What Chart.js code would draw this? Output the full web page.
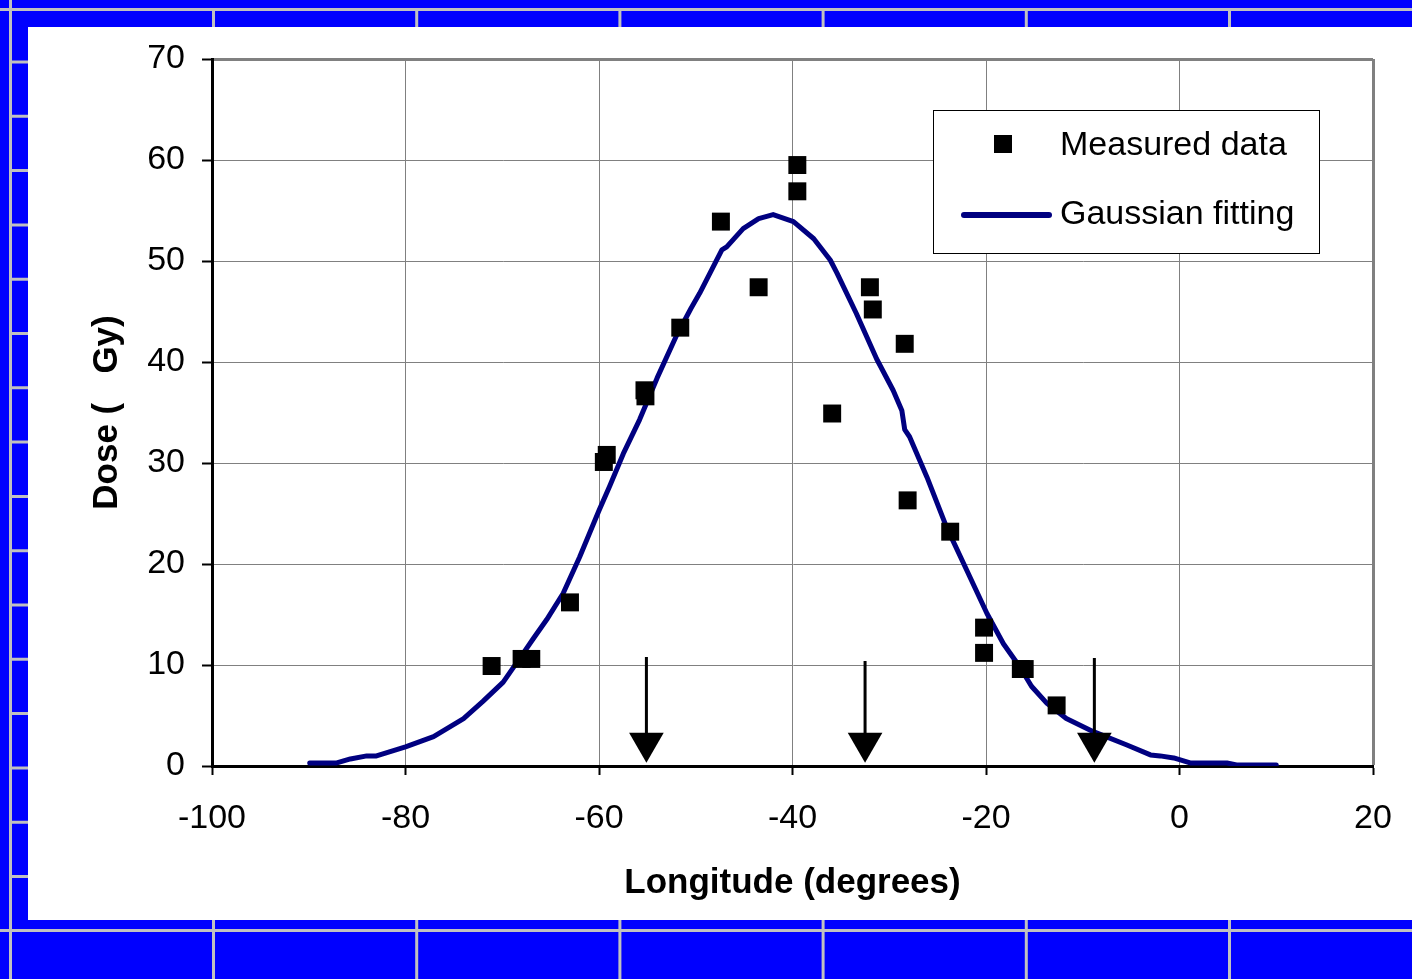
<!DOCTYPE html>
<html>
<head>
<meta charset="utf-8">
<title>Dose vs longitude</title>
<script src="https://cdn.jsdelivr.net/npm/chart.js@4.4.1/dist/chart.umd.min.js"></script>
<style>
    html, body { margin: 0; padding: 0; background: #0000ff; }
    #wrap { width: 1412px; height: 979px; }
</style>
</head>
<body>
<div id="wrap"><canvas id="myChartDose" width="1412" height="979"></canvas></div>
<script>
// measured data (longitude in degrees, dose)
var measuredX = [-71.1, -68.0, -67.0, -63.0, -59.5, -59.2, -55.3, -55.2, -51.6, -47.4, -43.5, -39.5,
                 -39.5, -35.9, -32.0, -31.7, -28.4, -28.1, -23.7, -20.2, -20.2, -16.4, -16.0, -12.7];
var measuredY = [9.9, 10.6, 10.6, 16.2, 30.1, 30.8, 37.2, 36.6, 43.4, 53.9, 47.4, 59.5,
                 56.9, 34.9, 47.4, 45.2, 41.8, 26.3, 23.2, 13.7, 11.2, 9.6, 9.6, 6.0];

// gaussian fitting line
var fitX = [-89.9, -87.1, -85.7, -84.0, -83.0, -80.0, -77.1, -74.0, -72.0, -69.9, -67.8, -66.8,
            -65.4, -63.7, -62.0, -60.0, -58.9, -57.5, -55.8, -54.0, -52.0, -50.5, -49.6, -47.3,
            -46.8, -45.1, -43.5, -42.0, -39.9, -37.8, -36.1, -35.4, -33.4, -31.3, -29.6, -28.7,
            -28.4, -27.9, -26.1, -24.1, -22.0, -19.9, -18.2, -16.5, -15.3, -13.7, -11.7, -8.9,
            -5.5, -3.0, -2.0, -0.6, 1.1, 4.9, 5.9, 10.0];
var fitY = [0.3, 0.3, 0.7, 1.0, 1.0, 1.9, 2.9, 4.7, 6.4, 8.3, 11.2, 12.6,
            14.5, 17.1, 20.7, 25.3, 27.7, 30.9, 34.3, 38.4, 42.6, 45.3, 46.8, 51.1,
            51.4, 53.2, 54.2, 54.6, 53.9, 52.2, 50.1, 48.8, 44.8, 40.3, 37.2, 35.2,
            33.3, 32.6, 28.6, 23.7, 19.4, 15.1, 12.1, 9.8, 7.9, 6.2, 4.7, 3.4,
            2.1, 1.1, 1.0, 0.8, 0.3, 0.3, 0.1, 0.1];

// arrows: longitude, top of shaft, centre of the arrow head
var arrowX = [-55.1, -32.5, -8.8];
var arrowTop = [10.8, 10.4, 10.7];
var arrowHead = [2.3, 2.3, 2.3];

// axes
var xMin = -100, xMax = 20, xStep = 20;
var yMin = 0, yMax = 70, yStep = 10;

var seriesNames = ['Measured data', 'Gaussian fitting'];

var fontName = "'Liberation Sans', Arial, sans-serif";

function toPoints(xs, ys) {
    var pts = [];
    for (var i = 0; i < xs.length; i++) {
        pts.push({ x: xs[i], y: ys[i] });
    }
    return pts;
}

// blue slide background with grey dividers and the white panel
var framePlugin = {
    id: 'frame',
    beforeDraw: function (chart) {
        var c = chart.ctx;
        var w = chart.width, h = chart.height;
        c.save();
        c.fillStyle = '#0000ff';
        c.fillRect(0, 0, w, h);
        c.strokeStyle = '#c0c0c0';
        c.lineWidth = 3;
        c.beginPath();
        c.moveTo(0, 9.5); c.lineTo(w, 9.5);
        c.moveTo(0, 930.5); c.lineTo(w, 930.5);
        c.moveTo(10.5, 0); c.lineTo(10.5, h);
        for (var x = 213.5; x < w; x += 203.2) {
            c.moveTo(x, 9.5); c.lineTo(x, 28);
            c.moveTo(x, 919); c.lineTo(x, h);
        }
        for (var y = 62; y < 930; y += 54.3) {
            c.moveTo(10.5, y); c.lineTo(28, y);
        }
        c.stroke();
        c.fillStyle = '#ffffff';
        c.fillRect(28, 27, w - 28, 920 - 27);
        c.restore();
    }
};

// boxed legend inside the plot
var legendPlugin = {
    id: 'boxLegend',
    afterDraw: function (chart) {
        var c = chart.ctx;
        c.save();
        c.fillStyle = '#ffffff';
        c.fillRect(933, 110, 386, 143);
        c.strokeStyle = '#000000';
        c.lineWidth = 1;
        c.strokeRect(933.5, 110.5, 386, 143);

        c.fillStyle = '#000000';
        c.fillRect(994, 135, 18, 18);

        c.strokeStyle = '#000080';
        c.lineWidth = 6;
        c.lineCap = 'round';
        c.beginPath();
        c.moveTo(964, 215);
        c.lineTo(1049, 215);
        c.stroke();

        c.fillStyle = '#000000';
        c.font = '34px ' + fontName;
        c.textBaseline = 'alphabetic';
        c.textAlign = 'left';
        c.fillText(seriesNames[0], 1060, 155);
        c.fillText(seriesNames[1], 1060, 224);
        c.restore();
    }
};

var datasets = [{
    label: seriesNames[0],
    data: toPoints(measuredX, measuredY),
    pointStyle: 'rect',
    pointRadius: 12.7,
    pointBorderWidth: 0,
    backgroundColor: '#000000',
    borderColor: '#000000',
    showLine: false
}];

for (var i = 0; i < arrowX.length; i++) {
    datasets.push({
        label: 'arrow' + (i + 1),
        data: [{ x: arrowX[i], y: arrowTop[i] }, { x: arrowX[i], y: arrowHead[i] }],
        showLine: true,
        borderColor: '#000000',
        borderWidth: 3,
        pointStyle: 'triangle',
        rotation: 180,
        pointRadius: [0, 20],
        pointBorderWidth: 0,
        backgroundColor: '#000000'
    });
}

datasets.push({
    label: seriesNames[1],
    data: toPoints(fitX, fitY),
    showLine: true,
    borderColor: '#000080',
    borderWidth: 5,
    borderJoinStyle: 'round',
    borderCapStyle: 'round',
    pointRadius: 0,
    tension: 0
});

var edgeGrid = function (ctx, edgeValue) {
    return ctx.tick && ctx.tick.value === edgeValue;
};

const ctx = document.getElementById('myChartDose');
const myChart = new Chart(ctx, {
    type: 'scatter',
    data: { datasets: datasets },
    plugins: [framePlugin, legendPlugin],
    options: {
        responsive: false,
        animation: false,
        devicePixelRatio: 1,
        events: [],
        layout: { padding: { left: 0, top: 59, right: 39, bottom: 0 } },
        plugins: {
            legend: { display: false },
            tooltip: { enabled: false }
        },
        scales: {
            x: {
                type: 'linear',
                min: xMin,
                max: xMax,
                afterFit: function (scale) {
                    scale.height = 213;
                    scale.paddingLeft = 0;
                    scale.paddingRight = 0;
                },
                ticks: {
                    stepSize: xStep,
                    color: '#000000',
                    padding: 23,
                    maxRotation: 0,
                    font: { family: fontName, size: 34 }
                },
                grid: {
                    color: '#808080',
                    lineWidth: function (c) { return edgeGrid(c, xMax) ? 3 : 1; },
                    tickColor: '#000000',
                    tickWidth: 2,
                    tickLength: 9
                },
                border: { color: '#000000', width: 3 },
                title: {
                    display: true,
                    text: 'Longitude (degrees)',
                    color: '#000000',
                    padding: { top: 0, bottom: 75 },
                    font: { family: fontName, size: 35, weight: 'bold' }
                }
            },
            y: {
                type: 'linear',
                min: yMin,
                max: yMax,
                afterFit: function (scale) {
                    scale.width = 212;
                    scale.paddingTop = 0;
                    scale.paddingBottom = 0;
                },
                ticks: {
                    stepSize: yStep,
                    color: '#000000',
                    padding: 17,
                    font: { family: fontName, size: 34 }
                },
                grid: {
                    color: '#808080',
                    lineWidth: function (c) { return edgeGrid(c, yMax) ? 3 : 1; },
                    tickColor: '#000000',
                    tickWidth: 2,
                    tickLength: 10
                },
                border: { color: '#000000', width: 3 },
                title: {
                    display: true,
                    text: 'Dose (   Gy)',
                    color: '#000000',
                    padding: { top: 86, bottom: 0 },
                    font: { family: fontName, size: 35, weight: 'bold' }
                }
            }
        }
    }
});
</script>
</body>
</html>
